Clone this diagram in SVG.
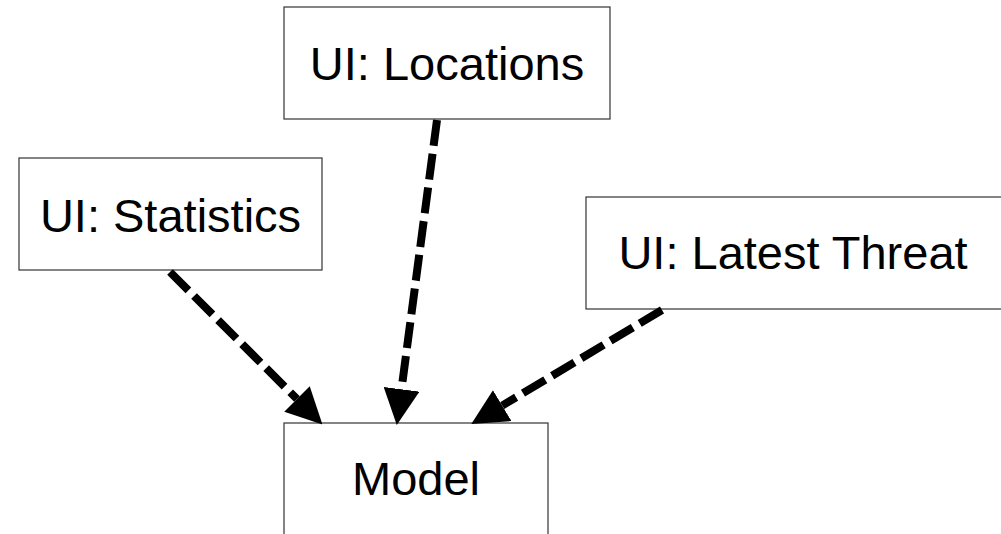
<svg xmlns="http://www.w3.org/2000/svg" width="1001" height="534" viewBox="0 0 1001 534">
  <style>
    .box { fill: #ffffff; stroke: #333333; stroke-width: 1.2; }
    .label { font-family: "Liberation Sans", Arial, sans-serif; font-size: 47px; fill: #000000; text-anchor: middle; }
    .dep { fill: none; stroke: #000000; stroke-width: 8; stroke-dasharray: 26 8; marker-end: url(#head); }
  </style>
  <defs>
    <marker id="head" markerUnits="userSpaceOnUse" markerWidth="36" markerHeight="36" viewBox="0 0 34 34" refX="0" refY="17" orient="auto">
      <path d="M0,0 L34,17 L0,34 Z" fill="#000000"/>
    </marker>
  </defs>

  <rect width="1001" height="534" fill="#ffffff"/>

  <g id="node-locations">
    <rect class="box" x="284" y="7" width="326" height="112"/>
    <text class="label" x="447" y="80">UI: Locations</text>
  </g>

  <g id="node-statistics">
    <rect class="box" x="19" y="158" width="303" height="112"/>
    <text class="label" x="170.5" y="232">UI: Statistics</text>
  </g>

  <g id="node-latest-threat">
    <rect class="box" x="586" y="197" width="430" height="112"/>
    <text class="label" x="793" y="269">UI: Latest Threat</text>
  </g>

  <g id="node-model">
    <rect class="box" x="284" y="423" width="264" height="150"/>
    <text class="label" x="416" y="495">Model</text>
  </g>

  <g id="connectors">
    <path class="dep" d="M170,272 L297,399"/>
    <path class="dep" d="M437,120 L401.5,389.3"/>
    <path class="dep" d="M662,310 L502.2,405.6"/>
  </g>
</svg>
